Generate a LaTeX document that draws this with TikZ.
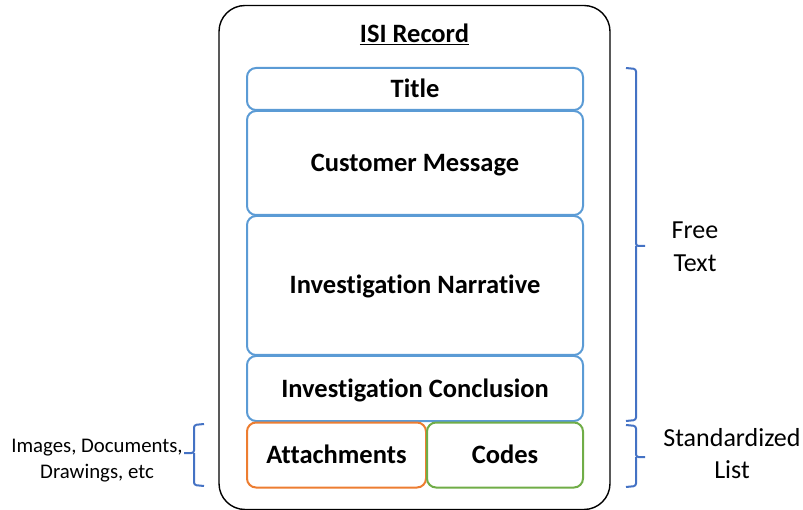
\documentclass[tikz,border=0pt]{standalone}
\usepackage{fontspec}
\setmainfont[RawFeature={-liga;-clig;-dlig;-calt}]{Carlito}
\definecolor{boxblue}{HTML}{5B9BD5}
\definecolor{boxorange}{HTML}{ED7D31}
\definecolor{boxgreen}{HTML}{70AD47}
\definecolor{braceblue}{HTML}{4472C4}
\begin{document}
\begin{tikzpicture}[x=1pt,y=-1pt,
  field/.style={draw=#1, line width=2pt, rounded corners=9pt, inner sep=0pt,
    font=\fontsize{26.5}{30}\selectfont\bfseries, text=black, text height=17pt, text depth=0pt},
  outerbox/.style={draw=black, line width=1.4pt, rounded corners=26pt, inner sep=0pt},
  sidelabel/.style={align=center, inner sep=0pt, text=black},
  bracepath/.style={draw=braceblue, line width=2pt, rounded corners=2.5pt}]
\useasboundingbox (0,0) rectangle (803,510);
\node[outerbox, minimum width=391pt, minimum height=504pt] (outer) at (414.5,257.5) {};
\node[inner sep=0pt, font=\fontsize{26.5}{30}\selectfont\bfseries] (rec) at (414.5,34) {\underline{ISI Record}};
\node[field=boxblue, minimum width=336pt, minimum height=42pt] (title) at (415,89) {Title};
\node[field=boxblue, minimum width=336pt, minimum height=104pt] (cust) at (415,163) {Customer Message};
\node[field=boxblue, minimum width=336pt, minimum height=139pt] (narr) at (415,285.5) {Investigation Narrative};
\node[field=boxblue, minimum width=336pt, minimum height=65pt] (concl) at (415,388.5) {Investigation Conclusion};
\node[field=boxorange, minimum width=179pt, minimum height=65pt] (att) at (336.5,455) {Attachments};
\node[field=boxgreen, minimum width=156pt, minimum height=65pt] (codes) at (505,455) {Codes};
% right braces
\coordinate (b1t) at (626,68);
\coordinate (b1m) at (645,246);
\coordinate (b1b) at (626,421);
\draw[bracepath] (b1t) -- (636,69) -- (636,246) -- (b1m);
\draw[bracepath] (636,246) -- (636,420) -- (b1b);
\coordinate (b2t) at (626,425);
\coordinate (b2m) at (645,457);
\coordinate (b2b) at (626,487);
\draw[bracepath] (b2t) -- (636,426) -- (636,457) -- (b2m);
\draw[bracepath] (636,457) -- (636,486) -- (b2b);
% left brace
\coordinate (b3t) at (204,424);
\coordinate (b3m) at (184,453);
\coordinate (b3b) at (204,486);
\draw[bracepath] (b3t) -- (194,425) -- (194,453) -- (b3m);
\draw[bracepath] (194,453) -- (194,485) -- (b3b);
\node[sidelabel, font=\fontsize{26}{33}\selectfont] (free) at (695,247) {Free\\Text};
\node[sidelabel, font=\fontsize{26}{32}\selectfont] (std) at (732,454) {Standardized\\List};
\node[sidelabel, font=\fontsize{20.8}{26}\selectfont] (img) at (97,461) {Images, Documents,\\Drawings, etc};
\end{tikzpicture}
\end{document}
